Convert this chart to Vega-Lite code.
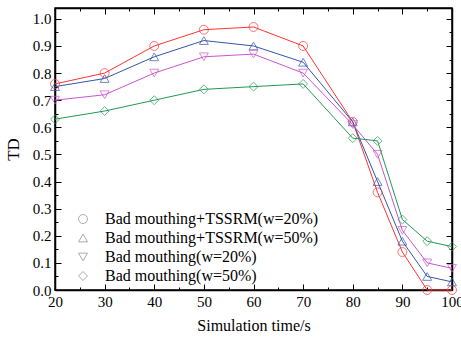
{
  "$schema": "https://vega.github.io/schema/vega-lite/v6.json",
  "width": 397,
  "height": 282,
  "autosize": "none",
  "padding": {"left": 55, "top": 8, "right": 9, "bottom": 52},
  "config": {
    "view": {"stroke": "#000", "strokeWidth": 1.5},
    "font": "Liberation Serif, Times New Roman, serif",
    "axis": {"grid": false, "labelFlush": false, "domainColor": "#000", "domainWidth": 1.5, "tickColor": "#000", "labelColor": "#000", "titleColor": "#000", "labelFont": "Liberation Serif, Times New Roman, serif", "titleFont": "Liberation Serif, Times New Roman, serif", "labelFontSize": 15, "titleFontSize": 16, "titleFontWeight": "normal"},
    "legend": {"labelFont": "Liberation Serif, Times New Roman, serif"}
  },
  "data": {"values": [
    {"x": 20, "v": 0.76, "s": "Bad mouthing+TSSRM(w=20%)"},
    {"x": 30, "v": 0.80, "s": "Bad mouthing+TSSRM(w=20%)"},
    {"x": 40, "v": 0.90, "s": "Bad mouthing+TSSRM(w=20%)"},
    {"x": 50, "v": 0.96, "s": "Bad mouthing+TSSRM(w=20%)"},
    {"x": 60, "v": 0.97, "s": "Bad mouthing+TSSRM(w=20%)"},
    {"x": 70, "v": 0.90, "s": "Bad mouthing+TSSRM(w=20%)"},
    {"x": 80, "v": 0.62, "s": "Bad mouthing+TSSRM(w=20%)"},
    {"x": 85, "v": 0.36, "s": "Bad mouthing+TSSRM(w=20%)"},
    {"x": 90, "v": 0.14, "s": "Bad mouthing+TSSRM(w=20%)"},
    {"x": 95, "v": 0.00, "s": "Bad mouthing+TSSRM(w=20%)"},
    {"x": 100, "v": 0.00, "s": "Bad mouthing+TSSRM(w=20%)"},
    {"x": 20, "v": 0.75, "s": "Bad mouthing+TSSRM(w=50%)"},
    {"x": 30, "v": 0.78, "s": "Bad mouthing+TSSRM(w=50%)"},
    {"x": 40, "v": 0.86, "s": "Bad mouthing+TSSRM(w=50%)"},
    {"x": 50, "v": 0.92, "s": "Bad mouthing+TSSRM(w=50%)"},
    {"x": 60, "v": 0.90, "s": "Bad mouthing+TSSRM(w=50%)"},
    {"x": 70, "v": 0.84, "s": "Bad mouthing+TSSRM(w=50%)"},
    {"x": 80, "v": 0.62, "s": "Bad mouthing+TSSRM(w=50%)"},
    {"x": 85, "v": 0.40, "s": "Bad mouthing+TSSRM(w=50%)"},
    {"x": 90, "v": 0.18, "s": "Bad mouthing+TSSRM(w=50%)"},
    {"x": 95, "v": 0.05, "s": "Bad mouthing+TSSRM(w=50%)"},
    {"x": 100, "v": 0.03, "s": "Bad mouthing+TSSRM(w=50%)"},
    {"x": 20, "v": 0.70, "s": "Bad mouthing(w=20%)"},
    {"x": 30, "v": 0.72, "s": "Bad mouthing(w=20%)"},
    {"x": 40, "v": 0.80, "s": "Bad mouthing(w=20%)"},
    {"x": 50, "v": 0.86, "s": "Bad mouthing(w=20%)"},
    {"x": 60, "v": 0.87, "s": "Bad mouthing(w=20%)"},
    {"x": 70, "v": 0.80, "s": "Bad mouthing(w=20%)"},
    {"x": 80, "v": 0.61, "s": "Bad mouthing(w=20%)"},
    {"x": 85, "v": 0.50, "s": "Bad mouthing(w=20%)"},
    {"x": 90, "v": 0.22, "s": "Bad mouthing(w=20%)"},
    {"x": 95, "v": 0.10, "s": "Bad mouthing(w=20%)"},
    {"x": 100, "v": 0.08, "s": "Bad mouthing(w=20%)"},
    {"x": 20, "v": 0.63, "s": "Bad mouthing(w=50%)"},
    {"x": 30, "v": 0.66, "s": "Bad mouthing(w=50%)"},
    {"x": 40, "v": 0.70, "s": "Bad mouthing(w=50%)"},
    {"x": 50, "v": 0.74, "s": "Bad mouthing(w=50%)"},
    {"x": 60, "v": 0.75, "s": "Bad mouthing(w=50%)"},
    {"x": 70, "v": 0.76, "s": "Bad mouthing(w=50%)"},
    {"x": 80, "v": 0.56, "s": "Bad mouthing(w=50%)"},
    {"x": 85, "v": 0.55, "s": "Bad mouthing(w=50%)"},
    {"x": 90, "v": 0.26, "s": "Bad mouthing(w=50%)"},
    {"x": 95, "v": 0.18, "s": "Bad mouthing(w=50%)"},
    {"x": 100, "v": 0.16, "s": "Bad mouthing(w=50%)"}
  ]},
  "resolve": {"axis": {"x": "independent", "y": "independent"}},
  "layer": [
    {
      "mark": {"type": "line", "strokeWidth": 1},
      "encoding": {
        "x": {"field": "x", "type": "quantitative", "scale": {"domain": [20, 100], "nice": false}, "axis": {"orient": "bottom", "title": "Simulation time/s", "values": [20,25,30,35,40,45,50,55,60,65,70,75,80,85,90,95,100], "labelExpr": "datum.value % 10 === 0 ? datum.label : ''", "tickSize": {"condition": {"test": "datum.value % 10 === 0", "value": -6}, "value": -3}, "labelPadding": 10, "titlePadding": 8}},
        "y": {"field": "v", "type": "quantitative", "scale": {"domain": [0, 1.04], "nice": false}, "axis": {"orient": "left", "title": "TD", "titleFontSize": 17, "values": [0,0.05,0.1,0.15,0.2,0.25,0.3,0.35,0.4,0.45,0.5,0.55,0.6,0.65,0.7,0.75,0.8,0.85,0.9,0.95,1.0], "labelExpr": "round(datum.value*100) % 10 === 0 ? format(datum.value, '.1f') : ''", "tickSize": {"condition": {"test": "round(datum.value*100) % 10 === 0", "value": -6}, "value": -3}, "labelPadding": 10, "titlePadding": 10}},
        "color": {"field": "s", "type": "nominal", "sort": ["Bad mouthing+TSSRM(w=20%)", "Bad mouthing+TSSRM(w=50%)", "Bad mouthing(w=20%)", "Bad mouthing(w=50%)"], "scale": {"range": ["#ff3333", "#3355aa", "#cc55cc", "#229955"]}, "legend": null}
      }
    },
    {
      "mark": {"type": "point", "filled": false, "size": 80, "strokeWidth": 1},
      "encoding": {
        "x": {"field": "x", "type": "quantitative", "axis": {"orient": "top", "title": null, "labels": false, "values": [20,25,30,35,40,45,50,55,60,65,70,75,80,85,90,95,100], "tickSize": {"condition": {"test": "datum.value % 10 === 0", "value": -6}, "value": -3}}},
        "y": {"field": "v", "type": "quantitative", "axis": {"orient": "right", "title": null, "labels": false, "values": [0,0.05,0.1,0.15,0.2,0.25,0.3,0.35,0.4,0.45,0.5,0.55,0.6,0.65,0.7,0.75,0.8,0.85,0.9,0.95,1.0], "tickSize": {"condition": {"test": "round(datum.value*100) % 10 === 0", "value": -6}, "value": -3}}},
        "shape": {"field": "s", "type": "nominal", "sort": ["Bad mouthing+TSSRM(w=20%)", "Bad mouthing+TSSRM(w=50%)", "Bad mouthing(w=20%)", "Bad mouthing(w=50%)"], "scale": {"range": ["circle", "triangle-up", "triangle-down", "diamond"]}, "legend": {"orient": "none", "legendX": 20, "legendY": 203, "padding": 0, "title": null, "labelFontSize": 16, "labelColor": "#000", "labelLimit": 0, "symbolSize": 80, "symbolStrokeWidth": 1, "rowPadding": 3, "labelOffset": 14}},
        "color": {"field": "s", "type": "nominal", "sort": ["Bad mouthing+TSSRM(w=20%)", "Bad mouthing+TSSRM(w=50%)", "Bad mouthing(w=20%)", "Bad mouthing(w=50%)"], "legend": {"orient": "none", "legendX": 20, "legendY": 203, "padding": 0, "title": null, "labelFontSize": 16, "labelColor": "#000", "labelLimit": 0, "symbolSize": 80, "symbolStrokeWidth": 1, "rowPadding": 3, "labelOffset": 14}}
      }
    }
  ]
}
